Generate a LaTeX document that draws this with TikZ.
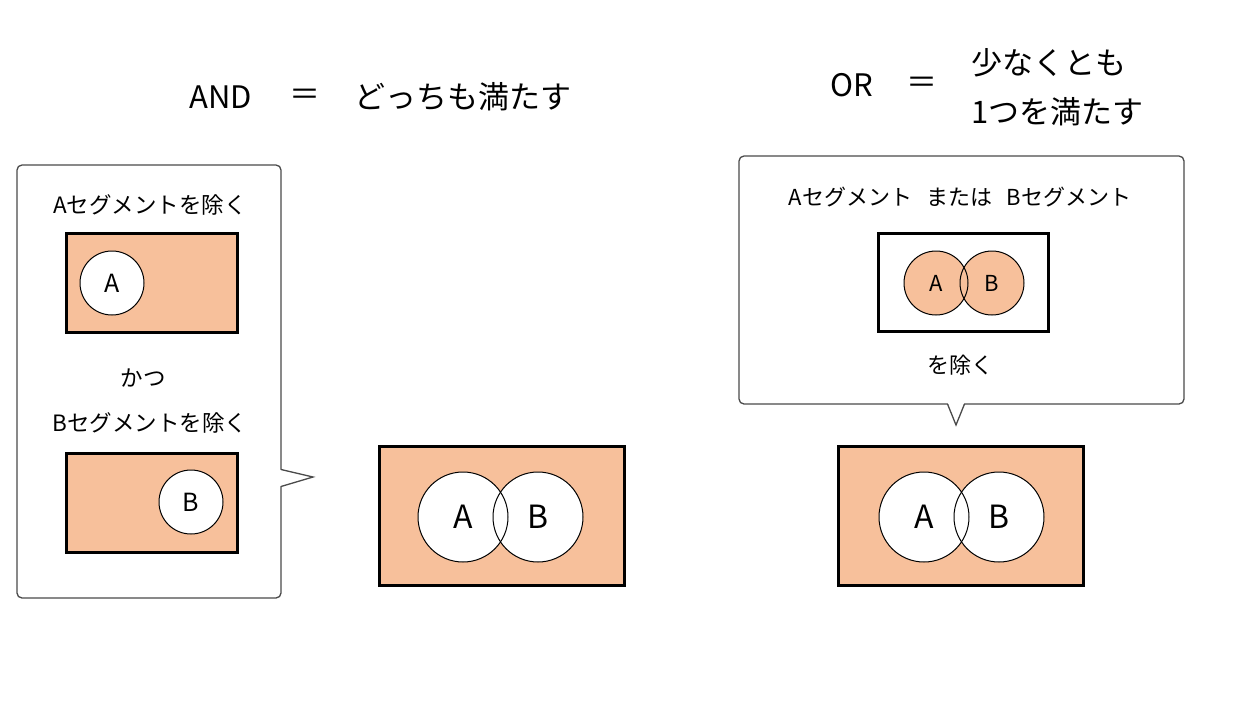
\documentclass[tikz,border=0pt]{standalone}
\usepackage{fontspec}
\setmainfont{Noto Sans CJK JP}
\definecolor{peach}{HTML}{F7C09B}
\definecolor{bubblegray}{HTML}{4A4A4A}
\tikzset{
  fs/.style={font=\fontsize{#1}{#1}\selectfont},
  bubble/.style={draw=bubblegray, line width=1.3, rounded corners=5, fill=white, inner sep=0},
  setbox/.style={draw=black, line width=3, fill=peach, inner sep=0},
  emptybox/.style={draw=black, line width=3, fill=white, inner sep=0},
  circfill/.style={circle, inner sep=0, minimum size=#1},
  ptr/.style={draw=bubblegray, line width=1.3, line join=miter},
}
\begin{document}
\begin{tikzpicture}[x=1pt,y=-1pt]
\useasboundingbox[fill=white] (0,0) rectangle (1248,702);

% headings
\node[fs=31] (and) at (221,97) {AND};
\node[fs=31] (eq1) at (305,97) {＝};
\node[fs=31] (both) at (463,97) {どっちも満たす};
\node[fs=31] (or) at (852,85) {OR};
\node[fs=31] (eq2) at (922,85) {＝};
\node[fs=31, anchor=west] (least1) at (968,63) {少なくとも};
\node[fs=31, anchor=west] (least2) at (968,112) {1つを満たす};

% left bubble
\node[bubble, minimum width=264, minimum height=433] (lb) at (149,381.5) {};
\fill[white] (279,469.5) -- (313,477) -- (279,486.5) -- cycle;
\draw[ptr] (281,469.5) -- (313,477) -- (281,486.5);

\node[fs=22.5] (ta) at (150,205) {Aセグメントを除く};
\node[setbox, minimum width=171, minimum height=99] (boxa) at (151.5,282.5) {};
\node[circfill=64, fill=white, draw=black, line width=1, fs=25] (ca) at (112,283) {A};
\node[fs=22.5] (katsu) at (143,378) {かつ};
\node[fs=22.5] (tb) at (150,423) {Bセグメントを除く};
\node[setbox, minimum width=171, minimum height=99] (boxb) at (151.5,502.5) {};
\node[circfill=64, fill=white, draw=black, line width=1, fs=25] (cb) at (191,502) {B};

% middle (AND result)
\node[setbox, minimum width=245, minimum height=139] (mbox) at (502,516) {};
\node[circfill=90, fill=white] (mAf) at (463,517) {};
\node[circfill=90, fill=white] (mBf) at (538,517) {};
\node[circfill=90, draw=black, line width=1, fs=32] (mA) at (463,517) {A};
\node[circfill=90, draw=black, line width=1, fs=32] (mB) at (538,517) {B};

% right bubble
\node[bubble, minimum width=445, minimum height=248] (rb) at (961.5,280) {};
\fill[white] (947.5,402) -- (956,425) -- (964.5,402) -- cycle;
\draw[ptr] (947.5,404) -- (956,425) -- (964.5,404);

\node[fs=22] (tor) at (960,197) {Aセグメント\hspace{0.65em}または\hspace{0.65em}Bセグメント};
\node[emptybox, minimum width=170, minimum height=98] (ibox) at (963.5,282.5) {};
\node[circfill=64, fill=peach] (iAf) at (936,283) {};
\node[circfill=64, fill=peach] (iBf) at (992,283) {};
\node[circfill=64, draw=black, line width=1, fs=22] (iA) at (936,283) {A};
\node[circfill=64, draw=black, line width=1, fs=22] (iB) at (992,283) {B};
\node[fs=22] (excl) at (960,365) {を除く};

% right (OR result)
\node[setbox, minimum width=245, minimum height=139] (rbox) at (961,516) {};
\node[circfill=90, fill=white] (rAf) at (924,517) {};
\node[circfill=90, fill=white] (rBf) at (999,517) {};
\node[circfill=90, draw=black, line width=1, fs=32] (rA) at (924,517) {A};
\node[circfill=90, draw=black, line width=1, fs=32] (rB) at (999,517) {B};
\end{tikzpicture}
\end{document}
